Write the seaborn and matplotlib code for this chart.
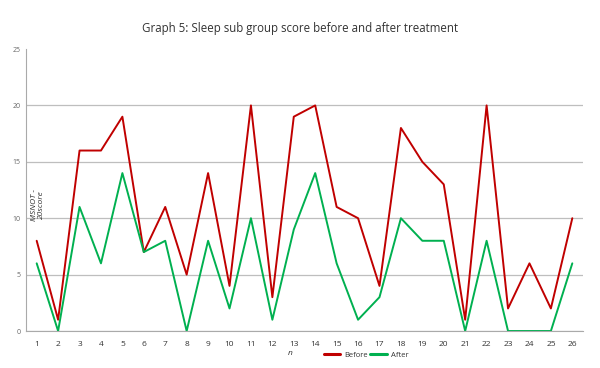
import pandas as pd
import numpy as np
import matplotlib
matplotlib.use("Agg")
import matplotlib.pyplot as plt
import seaborn as sns
from matplotlib.lines import Line2D

# %% data
patients = list(range(1, 27))
before = [8, 1, 16, 16, 19, 7, 11, 5, 14, 4, 20, 3, 19, 20, 11, 10, 4, 18, 15, 13, 1, 20, 2, 6, 2, 10]
after = [6, 0, 11, 6, 14, 7, 8, 0, 8, 2, 10, 1, 9, 14, 6, 1, 3, 10, 8, 8, 0, 8, 0, 0, 0, 6]
y_ticks = [0, 5, 10, 15, 20, 25]

df = pd.DataFrame({"n": patients * 2,
                   "score": before + after,
                   "when": ["Before"] * len(before) + ["After"] * len(after)})

# %% plot
sns.set_style("white")
plt.rcParams['font.family'] = ['Open Sans', 'DejaVu Sans']

fig = plt.figure(figsize=(6, 3.68), dpi=100)
ax = fig.add_axes([0.0433, 0.1005, 0.9284, 0.7663])

sns.lineplot(data=df, x="n", y="score", hue="when",
             palette={"Before": "#C00000", "After": "#00B050"},
             linewidth=1.4, ax=ax, legend=False)

ax.set_xlim(0.5, 26.5)
ax.set_ylim(0, 25)
ax.set_yticks(y_ticks)
ax.set_yticklabels([str(v) for v in y_ticks], fontsize=5, color="#666666")
ax.yaxis.grid(True, color="#BEBEBE", linewidth=0.9)
ax.yaxis.get_gridlines()[-1].set_visible(False)
ax.set_axisbelow(True)

# category style x axis: labels centred, ticks on boundaries
ax.set_xticks(patients)
ax.set_xticklabels([str(p) for p in patients], fontsize=6, color="#333333")
ax.tick_params(axis="x", length=0, pad=7)
ax.set_xticks(np.arange(0.5, 27, 1), minor=True)
ax.tick_params(axis="x", which="minor", length=3, color="#AAAAAA", width=0.6)
ax.tick_params(axis="y", length=3, color="#AAAAAA", width=0.6, pad=1)

for s in ["top", "right"]:
    ax.spines[s].set_visible(False)
for s in ["left", "bottom"]:
    ax.spines[s].set_color("#AAAAAA")
    ax.spines[s].set_linewidth(0.8)

ax.set_xlabel("")
ax.set_ylabel("")
fig.text(0.483, 0.035, "n", fontsize=6, style="italic", color="#333333", ha="center")
ax.text(1.05, 11.2, "MSNOT -\n20score", rotation=90, fontsize=6, style="italic",
        color="#333333", ha="center", va="center", linespacing=1.0)

fig.suptitle("Graph 5: Sleep sub group score before and after treatment",
             x=0.5, y=0.94, fontsize=8.3, color="#333333")

# legend
handles = [Line2D([], [], color="#C00000", lw=2.2), Line2D([], [], color="#00B050", lw=2.2)]
fig.legend(handles, ["Before", "After"], loc="center", bbox_to_anchor=(0.61, 0.035),
           ncol=2, frameon=False, fontsize=5.5, handlelength=2.2, handletextpad=0.5,
           columnspacing=0.3, labelcolor="#333333")

fig.savefig("out.png", dpi=100)
